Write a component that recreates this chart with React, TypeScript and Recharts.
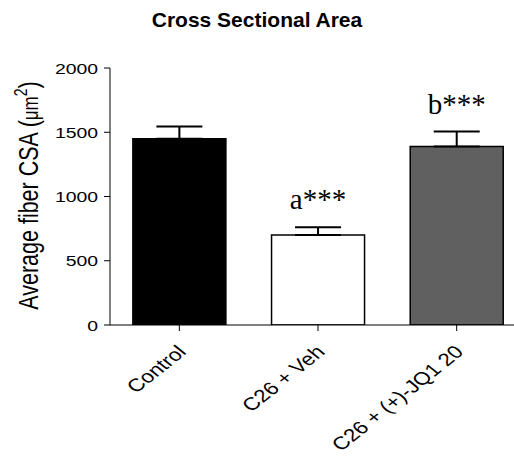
import React from 'react';
import { BarChart, Bar, XAxis, YAxis, Cell, ErrorBar, ReferenceDot } from 'recharts';

const categories = ['Control', 'C26 + Veh', 'C26 + (+)-JQ1 20'];
const means = [1450, 700, 1390];
const sems = [95, 60, 115];
const annotations = ['', 'a***', 'b***'];
const yTicks = [0, 500, 1000, 1500, 2000];
const fills = ['#000000', '#ffffff', '#606060'];

const data = categories.map((name, i) => ({
  name,
  mean: means[i],
  err: [0, sems[i]],
  top: means[i] + sems[i],
}));

const FONT = 'Arial, "Liberation Sans", Helvetica, sans-serif';
const SX = 1.25;

const XTick = (props: any) => {
  const { x, y, payload } = props;
  return (
    <text
      transform={`translate(${x + 8}, ${y + 20}) scale(${SX}, 1) rotate(-45)`}
      textAnchor="end"
      fontFamily={FONT}
      fontSize={18}
      fill="#000"
    >
      {payload.value}
    </text>
  );
};

const YTick = (props: any) => {
  const { x, y, payload } = props;
  return (
    <text
      transform={`translate(${x}, ${y}) scale(${SX}, 1)`}
      textAnchor="end"
      dy="0.36em"
      fontFamily={FONT}
      fontSize={15.5}
      fill="#000"
    >
      {payload.value}
    </text>
  );
};

const YLabel = (props: any) => {
  const vb = props.viewBox || {};
  const cy = (vb.y || 68) + (vb.height || 257) / 2 - 1;
  return (
    <text
      transform={`translate(38, ${cy}) scale(${SX}, 1) rotate(-90)`}
      textAnchor="middle"
      fontFamily={FONT}
      fontSize={21.5}
      fill="#000"
    >
      Average fiber CSA (<tspan fontSize={17}>μm</tspan>
      <tspan fontSize={14} dy={-9}>2</tspan>
      <tspan dy={9}>)</tspan>
    </text>
  );
};

export default function App() {
  return (
    <div style={{ position: 'absolute', left: 0, top: 0, width: 514, height: 463, overflow: 'hidden', background: '#fff' }}>
      <div
        style={{
          position: 'absolute',
          left: 0,
          top: 8,
          width: 514,
          textAlign: 'center',
          fontFamily: FONT,
          fontWeight: 'bold',
          fontSize: 21,
          lineHeight: '24px',
        }}
      >
        Cross Sectional Area
      </div>
      <div style={{ position: 'absolute', left: 0, top: 0 }}>
        <BarChart
          width={540}
          height={463}
          data={data}
          margin={{ top: 68, right: 14, left: 0, bottom: 78 }}
          barCategoryGap="16.5%"
        >
          <XAxis
            dataKey="name"
            axisLine={{ stroke: '#000', strokeWidth: 1 }}
            tickLine={{ stroke: '#000', strokeWidth: 1 }}
            tickSize={6}
            tick={<XTick />}
            interval={0}
            height={60}
          />
          <YAxis
            domain={[0, 2000]}
            ticks={yTicks}
            width={110}
            axisLine={{ stroke: '#000', strokeWidth: 1 }}
            tickLine={{ stroke: '#000', strokeWidth: 1 }}
            tickSize={6}
            tickMargin={6}
            tick={<YTick />}
            allowDataOverflow
            label={<YLabel />}
          />
          <Bar dataKey="mean" isAnimationActive={false} stroke="#000" strokeWidth={1.5}>
            {data.map((d, i) => (
              <Cell key={d.name} fill={fills[i]} />
            ))}
            <ErrorBar dataKey="err" direction="y" width={23} stroke="#000" strokeWidth={2} isAnimationActive={false} />
          </Bar>
          {data.map((d, i) =>
            annotations[i] ? (
              <ReferenceDot
                key={'ann' + i}
                x={d.name}
                y={d.top}
                r={0}
                fill="none"
                stroke="none"
                label={{
                  value: annotations[i],
                  position: 'top',
                  offset: 18,
                  fill: '#000',
                  fontSize: 29,
                  fontFamily: '"Liberation Serif", "Times New Roman", serif',
                }}
              />
            ) : null
          )}
        </BarChart>
      </div>
    </div>
  );
}
